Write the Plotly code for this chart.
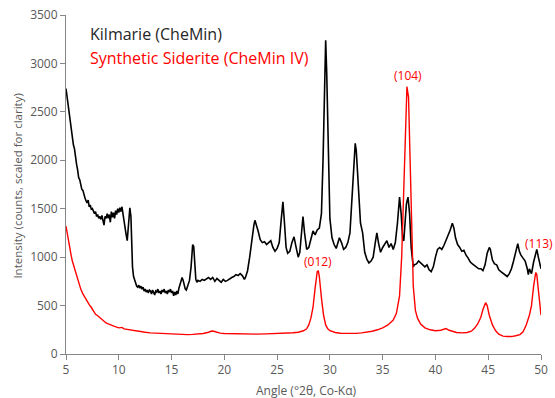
import plotly.graph_objects as go

# Kilmarie (CheMin) pattern
kil_x = [5.0, 5.1, 5.2, 5.3, 5.4, 5.5, 5.6, 5.7, 5.8, 5.9, 6.0, 6.1, 6.2, 6.3, 6.4, 6.5, 6.6, 6.7, 6.8, 6.9,
         7.0, 7.1, 7.2, 7.3, 7.4, 7.5, 7.6, 7.7, 7.8, 7.9, 8.0, 8.1, 8.2, 8.3, 8.4, 8.5, 8.6, 8.7, 8.8, 8.9,
         9.0, 9.1, 9.2, 9.3, 9.4, 9.5, 9.6, 9.7, 9.8, 9.9, 10.0, 10.1, 10.2, 10.3, 10.4, 10.5, 10.6, 10.7, 10.8, 10.9,
         11.0, 11.05, 11.15, 11.2, 11.3, 11.4, 11.5, 11.6, 11.7, 11.8, 11.9, 12.0, 12.1, 12.2, 12.3, 12.4, 12.5, 12.6, 12.7, 12.8,
         12.9, 13.0, 13.1, 13.2, 13.3, 13.4, 13.5, 13.6, 13.7, 13.8, 13.9, 14.0, 14.1, 14.2, 14.3, 14.4, 14.5, 14.6, 14.7, 14.8,
         14.9, 15.0, 15.1, 15.2, 15.3, 15.4, 15.5, 15.6, 15.7, 15.8, 15.9, 16.0, 16.1, 16.2, 16.3, 16.4, 16.5, 16.7, 16.85, 17.0,
         17.1, 17.2, 17.3, 17.4, 17.5, 17.7, 17.9, 18.1, 18.3, 18.5, 18.7, 18.9, 19.1, 19.3, 19.5, 19.7, 19.9, 20.1, 20.3, 20.5,
         20.7, 20.9, 21.1, 21.3, 21.5, 21.7, 21.9, 22.0, 22.2, 22.4, 22.6, 22.8, 22.9, 23.0, 23.2, 23.4, 23.6, 23.8, 24.0, 24.2,
         24.4, 24.6, 24.8, 25.0, 25.2, 25.4, 25.55, 25.7, 25.85, 26.0, 26.2, 26.4, 26.6, 26.8, 27.0, 27.15, 27.3, 27.45, 27.6, 27.8,
         28.0, 28.2, 28.4, 28.6, 28.8, 29.0, 29.2, 29.35, 29.5, 29.6, 29.7, 29.85, 30.0, 30.2, 30.4, 30.6, 30.8, 30.9, 31.1, 31.3,
         31.5, 31.7, 31.9, 32.1, 32.3, 32.4, 32.5, 32.7, 32.9, 33.1, 33.3, 33.5, 33.7, 33.9, 34.1, 34.3, 34.45, 34.6, 34.8, 35.0,
         35.2, 35.4, 35.6, 35.8, 36.0, 36.2, 36.4, 36.6, 36.75, 36.9, 37.0, 37.1, 37.25, 37.4, 37.55, 37.7, 37.9, 38.0, 38.2, 38.4,
         38.6, 38.8, 39.0, 39.2, 39.4, 39.6, 39.8, 40.0, 40.2, 40.4, 40.6, 40.8, 41.0, 41.2, 41.4, 41.6, 41.75, 41.9, 42.1, 42.3,
         42.5, 42.7, 42.9, 43.1, 43.3, 43.5, 43.7, 43.9, 44.1, 44.3, 44.5, 44.7, 44.9, 45.1, 45.2, 45.4, 45.6, 45.8, 46.0, 46.2,
         46.4, 46.6, 46.8, 47.0, 47.2, 47.4, 47.6, 47.8, 47.95, 48.1, 48.3, 48.5, 48.7, 48.8, 48.9, 49.1, 49.3, 49.5, 49.6, 49.75,
         49.9, 50.0]
kil_y = [2740, 2650, 2560, 2470, 2420, 2330, 2230, 2160, 2120, 2020, 1960, 1900, 1820, 1800, 1760, 1700, 1690, 1640, 1610, 1580,
         1560, 1590, 1520, 1540, 1490, 1500, 1470, 1450, 1470, 1420, 1440, 1400, 1420, 1390, 1430, 1380, 1330, 1420, 1400, 1450,
         1400, 1440, 1360, 1470, 1410, 1460, 1400, 1480, 1440, 1500, 1460, 1510, 1470, 1520, 1440, 1350, 1270, 1230, 1170, 1300,
         1480, 1510, 1420, 1200, 900, 800, 760, 730, 700, 690, 710, 680, 700, 670, 690, 650, 670, 640, 660, 630,
         660, 650, 620, 660, 640, 610, 650, 640, 670, 630, 650, 620, 660, 640, 670, 630, 650, 620, 660, 640,
         670, 630, 650, 600, 640, 610, 650, 620, 680, 720, 760, 790, 760, 700, 670, 660, 690, 760, 900, 1130,
         1110, 900, 770, 740, 760, 750, 770, 760, 780, 790, 770, 790, 750, 780, 760, 740, 770, 750, 760, 780,
         790, 800, 820, 810, 830, 810, 770, 790, 860, 1000, 1180, 1330, 1380, 1350, 1270, 1180, 1150, 1160, 1130, 1150,
         1170, 1100, 1060, 1090, 1150, 1400, 1570, 1350, 1100, 1040, 1060, 1150, 1210, 1100, 1000, 1050, 1250, 1420, 1250, 1080,
         1100, 1200, 1270, 1230, 1280, 1300, 1450, 2000, 3000, 3240, 2900, 2000, 1400, 1200, 1130, 1090, 1150, 1200, 1150, 1080,
         1100, 1150, 1250, 1600, 2050, 2175, 2100, 1700, 1350, 1250, 1050, 980, 940, 960, 1000, 1150, 1250, 1150, 1050, 1100,
         1140, 1170, 1100, 1140, 1080, 1150, 1350, 1620, 1450, 1180, 1170, 1300, 1550, 1620, 1450, 1100, 900, 920, 930, 960,
         940, 930, 900, 920, 870, 850, 900, 1000, 1080, 1100, 1080, 1120, 1170, 1230, 1280, 1350, 1300, 1200, 1130, 1100,
         1060, 1070, 1020, 990, 950, 930, 910, 900, 880, 880, 860, 920, 1040, 1100, 1080, 970, 930, 920, 870, 850,
         830, 810, 800, 830, 880, 960, 1060, 1140, 1060, 1020, 990, 960, 880, 820, 880, 830, 950, 1060, 1080, 1000,
         930, 880]

# Synthetic siderite (CheMin IV) pattern
sid_x = [5.0, 5.1, 5.2, 5.3, 5.4, 5.5, 5.6, 5.7, 5.8, 5.9, 6.0, 6.2, 6.4, 6.6, 6.8, 7.0, 7.2, 7.4, 7.6, 7.8,
         8.0, 8.2, 8.4, 8.6, 8.8, 9.0, 9.3, 9.6, 10.0, 10.3, 10.5, 11.0, 11.5, 12.0, 12.5, 13.0, 13.5, 14.0, 14.5, 15.0,
         15.5, 16.0, 16.5, 17.0, 17.5, 18.0, 18.5, 18.8, 19.0, 19.3, 19.6, 20.0, 21.0, 22.0, 23.0, 24.0, 25.0, 26.0, 26.5, 27.0,
         27.5, 27.8, 28.0, 28.2, 28.4, 28.6, 28.8, 28.9, 29.0, 29.2, 29.4, 29.6, 29.8, 30.0, 30.5, 31.0, 31.5, 32.0, 32.5, 33.0,
         33.5, 34.0, 34.5, 35.0, 35.5, 36.0, 36.3, 36.6, 36.8, 37.0, 37.15, 37.3, 37.45, 37.6, 37.75, 37.9, 38.1, 38.3, 38.6, 39.0,
         39.5, 40.0, 40.5, 40.8, 41.0, 41.3, 41.7, 42.0, 42.5, 43.0, 43.4, 43.7, 44.0, 44.3, 44.5, 44.75, 44.9, 45.1, 45.4, 45.7,
         46.0, 46.4, 46.8, 47.2, 47.6, 48.0, 48.3, 48.6, 48.9, 49.1, 49.3, 49.5, 49.6, 49.75, 49.9, 50.0]
sid_y = [1320, 1250, 1180, 1120, 1060, 1010, 960, 920, 880, 840, 800, 730, 670, 620, 580, 545, 510, 480, 440, 410,
         395, 375, 350, 335, 320, 310, 295, 285, 270, 275, 260, 250, 240, 230, 225, 218, 215, 210, 212, 208,
         205, 202, 200, 203, 205, 212, 225, 237, 235, 225, 215, 212, 208, 205, 205, 208, 210, 215, 220, 225,
         240, 260, 300, 370, 480, 680, 850, 860, 800, 580, 400, 300, 260, 240, 222, 215, 212, 212, 213, 218,
         225, 235, 250, 270, 300, 350, 420, 600, 1000, 1700, 2400, 2760, 2650, 2000, 1200, 700, 450, 370, 310, 270,
         250, 240, 245, 255, 262, 245, 230, 222, 218, 222, 235, 265, 310, 380, 460, 530, 500, 400, 300, 240,
         205, 185, 180, 180, 188, 200, 230, 300, 400, 500, 700, 840, 820, 650, 450, 400]

x_ticks = [5, 10, 15, 20, 25, 30, 35, 40, 45, 50]
y_ticks = [0, 500, 1000, 1500, 2000, 2500, 3000, 3500]

peak_labels = ["(012)", "(104)", "(113)"]
peak_x = [28.86, 37.39, 49.8]
peak_y = [960, 2876, 1144]

FONT = "Open Sans"
GRAY = "#595959"
AXC = "#868686"

fig = go.Figure()
fig.add_trace(go.Scatter(x=kil_x, y=kil_y, mode="lines", name="Kilmarie (CheMin)",
                         line=dict(color="#000000", width=1.6)))
fig.add_trace(go.Scatter(x=sid_x, y=sid_y, mode="lines", name="Synthetic Siderite (CheMin IV)",
                         line=dict(color="#ff0000", width=1.4)))

annotations = [
    dict(x=7.08, y=3299, xref="x", yref="y", text="Kilmarie (CheMin)", showarrow=False,
         xanchor="left", yanchor="middle", font=dict(family=FONT, size=16, color="#262626")),
    dict(x=7.08, y=3052, xref="x", yref="y", text="Synthetic Siderite (CheMin IV)", showarrow=False,
         xanchor="left", yanchor="middle", font=dict(family=FONT, size=16, color="#ff0000")),
    dict(x=-0.103, y=0.494, xref="paper", yref="paper", text="Intensity (counts, scaled for clarity)",
         showarrow=False, textangle=-90, xanchor="center", yanchor="middle",
         font=dict(family=FONT, size=11.5, color=GRAY)),
    dict(x=0.507, y=-0.109, xref="paper", yref="paper", text="Angle (°2θ, Co-Kα)",
         showarrow=False, xanchor="center", yanchor="middle",
         font=dict(family=FONT, size=12, color=GRAY)),
]
for t, px, py in zip(peak_labels, peak_x, peak_y):
    annotations.append(dict(x=px, y=py, xref="x", yref="y", text=t, showarrow=False,
                            xanchor="center", yanchor="middle",
                            font=dict(family=FONT, size=12, color="#ff0000")))

fig.update_layout(
    width=555, height=398,
    margin=dict(l=66, r=14, t=15, b=44),
    paper_bgcolor="white", plot_bgcolor="white",
    showlegend=False,
    font=dict(family=FONT, size=12, color=GRAY),
    annotations=annotations,
    xaxis=dict(range=[5, 50], tickvals=x_ticks, showgrid=False, zeroline=False,
               showline=True, linecolor=AXC, linewidth=1, ticks="outside", ticklen=5,
               tickcolor=AXC, tickfont=dict(family=FONT, size=12, color=GRAY), automargin=False),
    yaxis=dict(range=[0, 3500], tickvals=y_ticks, showgrid=False, zeroline=False,
               showline=True, linecolor=AXC, linewidth=1, ticks="outside", ticklen=5,
               tickcolor=AXC, tickfont=dict(family=FONT, size=12, color=GRAY), automargin=False),
)

fig.write_html("out.html", config={"displayModeBar": False},
               post_script="document.body.style.margin='0';document.body.style.overflow='hidden';")
